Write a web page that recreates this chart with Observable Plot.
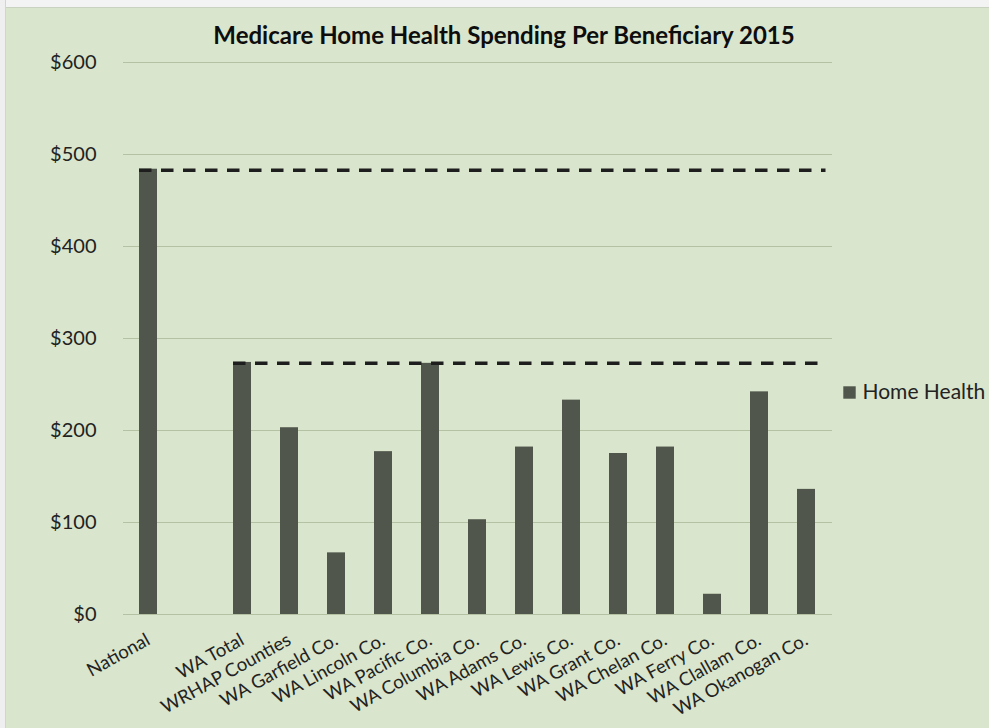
<!DOCTYPE html>
<html>
<head>
<meta charset="utf-8">
<script src="https://cdn.jsdelivr.net/npm/d3@7"></script>
<script src="https://cdn.jsdelivr.net/npm/@observablehq/plot@0.6"></script>
<style>
  html, body { margin: 0; padding: 0; background: #d9e5cc; }
  #wrap { position: relative; width: 989px; height: 728px; overflow: hidden; }
  #topband { position: absolute; left: 0; top: 0; width: 989px; height: 8px; background: #f3f3f3; border-bottom: 1px solid #c9d1c1; box-sizing: border-box; }
  #leftband { position: absolute; left: 0; top: 0; width: 6px; height: 728px; background: #efefef; border-right: 1px solid #d0d6ca; box-sizing: border-box; }
</style>
</head>
<body>
<div id="wrap"><div id="chart"></div><div id="topband"></div><div id="leftband"></div></div>
<script>
const titleText = "Medicare Home Health Spending Per Beneficiary 2015";
const seriesName = "Home Health";
const categories = ["National", " ", "WA Total", "WRHAP Counties", "WA Garfield Co.", "WA Lincoln Co.", "WA Pacific Co.", "WA Columbia Co.", "WA Adams Co.", "WA Lewis Co.", "WA Grant Co.", "WA Chelan Co.", "WA Ferry Co.", "WA Clallam Co.", "WA Okanogan Co."];
const homeHealth = [484, null, 274, 203, 67, 177, 273, 103, 182, 233, 175, 182, 22, 242, 136];
const yTicks = [0, 100, 200, 300, 400, 500, 600];
const referenceLines = [483, 273];
const referenceStarts = ["National", "WA Total"];
const referenceEnds = ["WA Okanogan Co.", "WA Okanogan Co."];

const data = categories.map((c, i) => ({category: c, value: homeHealth[i]})).filter(d => d.value != null);
const refs = referenceLines.map((v, i) => ({value: v, from: referenceStarts[i], to: referenceEnds[i]}));

const chart = Plot.plot({
  width: 989,
  height: 728,
  marginLeft: 123,
  marginRight: 157,
  marginTop: 62,
  marginBottom: 114,
  style: {background: "#d9e5cc", fontFamily: "Lato, sans-serif", fontSize: "20px", color: "#222"},
  x: {domain: categories, paddingInner: 0.61, paddingOuter: 0.305},
  y: {domain: [0, 600]},
  marks: [
    Plot.ruleY(yTicks, {stroke: "#b4c2a3", strokeWidth: 1.2}),
    Plot.axisY({ticks: yTicks, tickFormat: d => "$" + d, label: null, tickSize: 0, tickPadding: 27, fontSize: 20, fill: "#222"}),
    Plot.axisX({label: null, tickRotate: -29, tickSize: 0, tickPadding: 24, fontSize: 18.5, fill: "#222"}),
    Plot.barY(data, {x: "category", y: "value", fill: "#50564b"}),
    Plot.ruleY(refs.slice(0, 1), {y: "value", x1: "from", x2: "to", stroke: "#1e1e1e", strokeWidth: 3.5, strokeDasharray: "12.5,9.5", insetRight: -10.5}),
    Plot.ruleY(refs.slice(1), {y: "value", x1: "from", x2: "to", stroke: "#1e1e1e", strokeWidth: 3.5, strokeDasharray: "12.5,9.5", insetRight: -4.5}),
    Plot.text([titleText], {frameAnchor: "top", dx: 26, dy: -26, fontWeight: "bold", fontSize: 24, fill: "#0d0d0d", lineAnchor: "middle"}),
    Plot.dot([seriesName], {frameAnchor: "right", dx: 17, dy: 54, symbol: "square", r: 7, fill: "#50564b", stroke: "none"}),
    Plot.text([seriesName], {frameAnchor: "right", dx: 30, dy: 54, textAnchor: "start", fontSize: 21, fill: "#222", lineAnchor: "middle"})
  ]
});
document.getElementById("chart").appendChild(chart);
</script>
</body>
</html>
